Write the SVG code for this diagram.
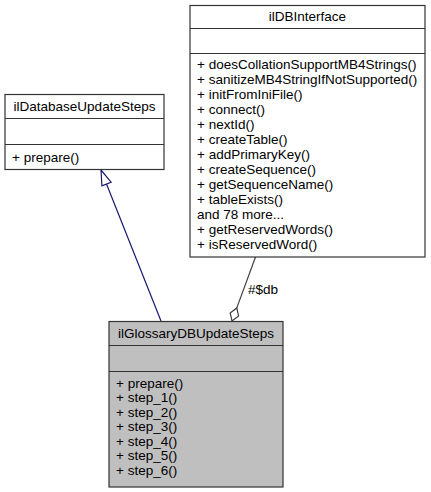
<svg xmlns="http://www.w3.org/2000/svg" width="431" height="492" viewBox="0 0 431 492">
<style>
.box{fill:#ffffff;stroke:#333333;stroke-width:1.2}
.cur{fill:#bfbfbf;stroke:#333333;stroke-width:1.2}
.sep{stroke:#333333;stroke-width:1.2}
text{font-family:"Liberation Sans",Arial,Helvetica,sans-serif;font-size:13.5px;fill:#000000}
.t{text-anchor:middle}
.inh{fill:none;stroke:#191970;stroke-width:1.2}
.agg{fill:none;stroke:#404040;stroke-width:1.2}
</style>
<rect x="0" y="0" width="431" height="492" fill="#ffffff"/>
<g id="connectors">
<line class="inh" x1="161" y1="321" x2="106.5" y2="184"/>
<polygon class="inh" points="101,170 111.1,182.2 101.9,185.8" fill="#ffffff"/>
<line class="agg" x1="255.5" y1="257" x2="236.8" y2="307.9"/>
<polygon class="agg" points="232,321 230.2,312.9 236.8,307.9 238.6,316" fill="#ffffff"/>
<text x="248" y="294">#$db</text>
</g>
<g id="ilDatabaseUpdateSteps">
<rect class="box" x="5" y="94.5" width="159" height="75"/>
<line class="sep" x1="5" y1="118.5" x2="164" y2="118.5"/>
<line class="sep" x1="5" y1="144.5" x2="164" y2="144.5"/>
<text class="t" x="84.5" y="111">ilDatabaseUpdateSteps</text>
<text x="12" y="161.5">+ prepare()</text>
</g>
<g id="ilDBInterface">
<rect class="box" x="190" y="5.5" width="235" height="251.5"/>
<line class="sep" x1="190" y1="28.5" x2="425" y2="28.5"/>
<line class="sep" x1="190" y1="53.5" x2="425" y2="53.5"/>
<text class="t" x="307.5" y="20.5">ilDBInterface</text>
<text x="197" y="68.5">+ doesCollationSupportMB4Strings()</text>
<text x="197" y="83.5">+ sanitizeMB4StringIfNotSupported()</text>
<text x="197" y="98.5">+ initFromIniFile()</text>
<text x="197" y="113.5">+ connect()</text>
<text x="197" y="128.5">+ nextId()</text>
<text x="197" y="143.5">+ createTable()</text>
<text x="197" y="158.5">+ addPrimaryKey()</text>
<text x="197" y="173.5">+ createSequence()</text>
<text x="197" y="188.5">+ getSequenceName()</text>
<text x="197" y="203.5">+ tableExists()</text>
<text x="197" y="218.5">and 78 more...</text>
<text x="197" y="233.5">+ getReservedWords()</text>
<text x="197" y="248.5">+ isReservedWord()</text>
</g>
<g id="ilGlossaryDBUpdateSteps">
<rect class="cur" x="109" y="321.5" width="174" height="165.5"/>
<line class="sep" x1="109" y1="345.5" x2="283" y2="345.5"/>
<line class="sep" x1="109" y1="371.5" x2="283" y2="371.5"/>
<text class="t" x="196" y="338">ilGlossaryDBUpdateSteps</text>
<text x="116" y="387.5">+ prepare()</text>
<text x="116" y="402">+ step_1()</text>
<text x="116" y="416.5">+ step_2()</text>
<text x="116" y="431">+ step_3()</text>
<text x="116" y="445.5">+ step_4()</text>
<text x="116" y="460">+ step_5()</text>
<text x="116" y="474.5">+ step_6()</text>
</g>
</svg>
